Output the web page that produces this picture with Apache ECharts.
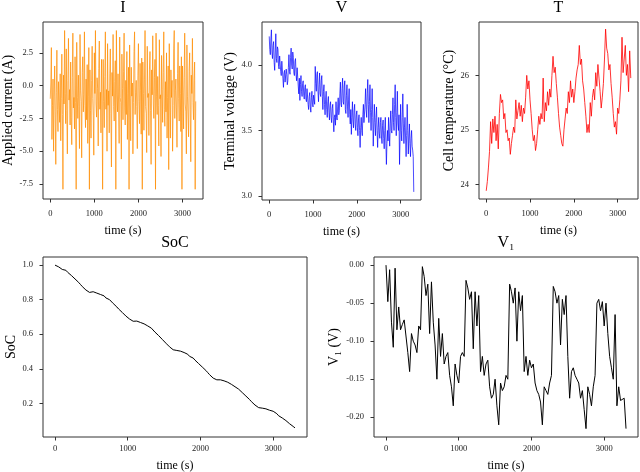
<!DOCTYPE html>
<html>
<head>
<meta charset="utf-8">
<script src="https://cdn.jsdelivr.net/npm/echarts@6/dist/echarts.min.js"></script>
<style>
  html, body, #main { width: 640px; height: 472px; margin: 0; background: #fff; }
</style>
</head>
<body>
<div id="main"></div>
<script>
// I and V are read every 12.5 s, the slower signals every 25 s (0 .. 3300 s)
var fastStep = 12.5;
var step = 25;

var current = [
  -1.0, 0.2, 2.9, -4.1, -1.5, 0.5, -5.0, -0.8, 1.5, -2.0, -6.0, -0.5, 2.7, -1.8, -3.5, 0.3, -1.2, -2.8, 0.9, -4.2, -1.0, 2.4, -2.2, -7.9,
  0.8, -1.4, 4.2, -0.6, -2.9, 2.8, -1.9, -5.2, 0.4, 3.6, -1.1, -0.3, -3.0, 1.8, -2.4, -4.5, 0.6, 4.0, -1.7, -0.9, -3.3, 2.2, -1.3, -7.9,
  3.3, -0.9, -2.5, 0.8, -1.6, -4.8, 3.9, -0.4, -1.2, -5.5, 1.0, 2.2, -2.0, -0.7, 4.1, -1.5, -3.2, 0.5, -2.6, 1.6, -4.4, -0.8, 2.9, -7.9,
  1.2, -1.9, -4.0, 0.4, 3.0, -1.0, -2.3, -5.3, 2.5, -0.6, 4.2, -1.4, -2.4, 0.6, -0.2, -4.6, 1.3, 3.4, -1.8, -0.5, -3.6, 2.0, -1.1, -7.9,
  2.0, -1.2, -3.2, 0.7, 4.1, -1.8, -0.3, -5.0, 3.2, -1.5, -0.4, -3.6, 0.9, 2.8, -2.1, -6.2, 1.0, -0.8, 3.9, -1.6, -2.7, 0.3, 1.9, -7.9,
  4.2, -0.7, -2.0, 0.9, -1.4, -4.4, 3.7, -0.9, -1.3, -5.6, 2.4, -0.2, -2.6, 1.1, 4.0, -1.7, -3.0, 0.4, -2.2, 2.6, -4.1, -0.6, 1.4, -7.9,
  3.1, -1.0, -4.2, 1.4, -0.8, 0.2, -5.2, -1.3, 2.6, 4.1, -2.2, -0.5, 0.4, -1.6, -4.8, 0.8, 3.2, -1.2, -2.9, 1.7, -0.4, -3.7, 2.1, -7.9,
  1.8, -0.6, -3.4, 0.5, 4.2, -1.6, -2.1, -5.1, 3.0, -0.9, -0.6, -3.8, 1.2, 2.6, -1.9, -6.0, 1.2, -0.7, 3.8, -1.4, -2.5, 0.6, 2.0, -7.9,
  4.0, -0.8, -2.2, 0.7, -1.5, -4.6, 3.5, -1.0, -0.7, -5.4, 2.3, -0.3, -2.8, 1.0, 4.1, -1.8, -3.1, 0.3, -2.0, 2.5, -4.0, -0.9, 1.5, -6.4,
  3.2, -1.1, -4.0, 1.2, -0.9, 0.4, -5.0, -1.5, 2.8, 4.2, -2.5, -0.4, 0.5, -1.7, -4.7, 0.9, 3.3, -1.0, -2.7, 1.5, -0.6, -3.5, 2.2, -7.9,
  1.5, -0.5, -3.3, 0.6, 4.0, -1.4, -2.0, -5.2, 3.1, -0.8, -0.7, -3.9, 1.1, 2.5, -1.8, -5.8, 0.8, -0.6, 3.6, -1.3, -2.6, 0.4, 1.8, -7.9,
  -1.2
];

var voltage = [
  4.22, 4.12, 4.08, 4.20, 4.27, 4.10, 4.05, 4.15, 4.18, 4.02, 3.96, 4.10, 4.24, 4.05, 4.02, 4.14, 4.12, 3.99, 3.97, 4.07, 4.08, 3.95, 3.92, 4.03,
  4.02, 3.90, 3.83, 3.94, 3.96, 3.87, 3.86, 3.97, 3.93, 3.85, 3.88, 3.98, 4.08, 3.95, 3.93, 4.06, 4.13, 4.00, 3.97, 4.10, 4.06, 3.94, 3.92, 4.03,
  4.05, 3.93, 3.88, 3.98, 3.98, 3.84, 3.78, 3.90, 3.73, 3.85, 3.92, 3.80, 3.76, 3.86, 3.88, 3.77, 3.74, 3.83, 3.85, 3.74, 3.72, 3.82, 3.82, 3.70,
  3.66, 3.76, 3.79, 3.68, 3.64, 3.75, 3.80, 3.70, 3.68, 3.77, 3.78, 3.70, 3.99, 3.86, 3.80, 3.93, 3.95, 3.80, 3.72, 3.85, 3.94, 3.78, 3.76, 3.88,
  3.92, 3.76, 3.66, 3.80, 3.85, 3.70, 3.62, 3.74, 3.80, 3.66, 3.60, 3.72, 3.76, 3.64, 3.58, 3.69, 3.72, 3.60, 3.56, 3.67, 3.70, 3.58, 3.49, 3.60,
  3.62, 3.54, 3.72, 3.60, 3.58, 3.68, 3.75, 3.62, 3.65, 3.78, 3.87, 3.70, 3.68, 3.82, 3.90, 3.72, 3.70, 3.84, 3.88, 3.66, 3.63, 3.77, 3.85, 3.68,
  3.60, 3.74, 3.82, 3.62, 3.55, 3.66, 3.47, 3.60, 3.72, 3.58, 3.52, 3.65, 3.70, 3.55, 3.50, 3.62, 3.65, 3.52, 3.46, 3.58, 3.62, 3.50, 3.37, 3.52,
  3.60, 3.50, 3.46, 3.62, 3.70, 3.56, 3.55, 3.70, 3.82, 3.66, 3.60, 3.78, 3.89, 3.70, 3.56, 3.72, 3.85, 3.64, 3.50, 3.66, 3.82, 3.60, 3.38, 3.55,
  3.70, 3.56, 3.46, 3.60, 3.68, 3.50, 3.37, 3.52, 3.60, 3.48, 3.44, 3.56, 3.60, 3.45, 3.40, 3.54, 3.58, 3.44, 3.36, 3.50, 3.60, 3.42, 3.24, 3.40,
  3.50, 3.42, 3.60, 3.48, 3.38, 3.55, 3.65, 3.50, 3.48, 3.62, 3.75, 3.56, 3.50, 3.70, 3.85, 3.60, 3.46, 3.64, 3.80, 3.55, 3.50, 3.62, 3.24, 3.45,
  3.70, 3.50, 3.42, 3.60, 3.78, 3.55, 3.40, 3.52, 3.60, 3.45, 3.30, 3.46, 3.70, 3.50, 3.32, 3.45, 3.55, 3.40, 3.30, 3.44, 3.50, 3.38, 3.35, 3.30,
  3.03
];

var temperature = [
  23.88, 24.05, 24.30, 24.60, 25.15, 24.75, 25.20, 24.95, 25.25, 24.80, 25.10, 24.65,
  25.30, 25.65, 25.50, 25.55, 25.20, 25.30, 24.95, 25.00, 24.80, 24.85, 24.55, 24.75,
  24.90, 25.05, 24.95, 25.55, 25.20, 25.35, 25.50, 25.25, 25.45, 25.15, 25.40, 25.30,
  25.60, 26.00, 25.75, 25.90, 25.55, 25.30, 25.00, 24.80, 24.90, 24.62, 24.75, 25.00,
  25.25, 25.10, 25.30, 25.20, 25.95, 25.15, 25.50, 25.35, 25.70, 25.45, 25.75, 25.60,
  26.00, 26.35, 26.05, 26.15, 25.85, 25.60, 25.30, 25.05, 24.90, 24.75, 24.70, 25.00,
  25.20, 25.40, 25.30, 25.70, 25.50, 25.90, 25.60, 25.75, 25.50, 25.70, 25.95, 26.10,
  26.20, 26.55, 26.20, 26.30, 25.90, 25.75, 25.50, 25.25, 24.95, 25.10, 24.95, 25.50,
  25.25, 25.60, 25.75, 25.55, 26.05, 25.80, 26.20, 25.95, 25.70, 25.40, 25.60, 25.85,
  26.30, 26.85, 26.50, 26.40, 26.10, 26.20, 25.85, 25.60, 25.30, 25.05, 25.15, 24.92,
  25.40, 25.30, 25.55, 25.90, 26.70, 26.05, 26.30, 26.55, 26.00, 26.20, 25.70, 26.45,
  25.95
];

var soc = [
  1.000, 0.995, 0.990, 0.985, 0.975, 0.968, 0.970, 0.958, 0.948, 0.940, 0.930, 0.920,
  0.910, 0.900, 0.888, 0.876, 0.866, 0.856, 0.846, 0.842, 0.845, 0.846, 0.842, 0.838,
  0.835, 0.830, 0.826, 0.822, 0.810, 0.802, 0.800, 0.790, 0.778, 0.768, 0.758, 0.746,
  0.737, 0.726, 0.715, 0.705, 0.697, 0.688, 0.680, 0.675, 0.676, 0.676, 0.672, 0.668,
  0.664, 0.660, 0.656, 0.648, 0.640, 0.635, 0.625, 0.612, 0.602, 0.592, 0.582, 0.570,
  0.560, 0.548, 0.538, 0.527, 0.518, 0.510, 0.505, 0.506, 0.505, 0.502, 0.498, 0.494,
  0.490, 0.484, 0.472, 0.466, 0.462, 0.450, 0.440, 0.430, 0.420, 0.410, 0.400, 0.390,
  0.378, 0.366, 0.356, 0.346, 0.340, 0.336, 0.338, 0.336, 0.333, 0.330, 0.326, 0.322,
  0.318, 0.310, 0.300, 0.296, 0.290, 0.282, 0.272, 0.262, 0.252, 0.242, 0.232, 0.222,
  0.210, 0.200, 0.190, 0.182, 0.175, 0.170, 0.172, 0.170, 0.168, 0.165, 0.160, 0.158,
  0.154, 0.150, 0.140, 0.128, 0.125, 0.115, 0.108, 0.100, 0.090, 0.082, 0.074, 0.066,
  0.058
];

var v1 = [
  0.000, -0.048, -0.006, -0.075, -0.108, -0.004, -0.085, -0.055, -0.085, -0.078, -0.072, -0.070,
  -0.115, -0.140, -0.090, -0.100, -0.105, -0.115, -0.080, -0.085, -0.002, -0.015, -0.040, -0.025,
  -0.090, -0.022, -0.075, -0.105, -0.150, -0.070, -0.120, -0.090, -0.130, -0.120, -0.115, -0.145,
  -0.160, -0.185, -0.130, -0.145, -0.155, -0.120, -0.115, -0.120, -0.020, -0.030, -0.045, -0.035,
  -0.110, -0.035, -0.080, -0.040, -0.140, -0.120, -0.145, -0.130, -0.125, -0.160, -0.175, -0.170,
  -0.150, -0.185, -0.210, -0.155, -0.165, -0.160, -0.145, -0.150, -0.025, -0.035, -0.050, -0.030,
  -0.100, -0.035, -0.060, -0.040, -0.140, -0.120, -0.145, -0.125, -0.135, -0.130, -0.155, -0.165,
  -0.170, -0.180, -0.210, -0.160, -0.165, -0.170, -0.155, -0.145, -0.028, -0.035, -0.050, -0.040,
  -0.105, -0.045, -0.065, -0.040, -0.120, -0.175, -0.140, -0.135, -0.145, -0.150, -0.155, -0.175,
  -0.165, -0.190, -0.215, -0.160, -0.170, -0.185, -0.160, -0.145, -0.050, -0.045, -0.060, -0.048,
  -0.080, -0.050, -0.090, -0.120, -0.135, -0.150, -0.065, -0.185, -0.160, -0.178, -0.176, -0.175,
  -0.215
];

var timeTicks = [0, 1000, 2000, 3000];

function withTime(vals, dt) {
  return vals.map(function (v, i) { return [i * dt, v]; });
}

var FONT = 'Liberation Serif';
var INK = '#333';

var panels = [
  { title: 'I', yName: 'Applied current (A)', data: current, dt: fastStep, color: '#ff8c00', lw: 0.7,
    box: [43, 22, 160, 177], yMin: -8.64, yMax: 4.85, yTicks: [-7.5, -5, -2.5, 0, 2.5], dec: 1, gap: 26, top: true },
  { title: 'V', yName: 'Terminal voltage (V)', data: voltage, dt: fastStep, color: '#0000ff', lw: 0.7,
    box: [262, 22, 159, 178], yMin: 2.968, yMax: 4.33, yTicks: [3.0, 3.5, 4.0], dec: 1, gap: 22, top: true },
  { title: 'T', yName: 'Cell temperature (\u00b0C)', data: temperature, dt: step, color: '#ff0000', lw: 0.8,
    box: [479, 22, 159, 177], yMin: 23.73, yMax: 26.98, yTicks: [24, 25, 26], dec: 0, gap: 20, top: true },
  { title: 'SoC', yName: 'SoC', data: soc, dt: step, color: '#000000', lw: 1,
    box: [43, 257, 264, 180], yMin: 0.005, yMax: 1.047, yTicks: [0.2, 0.4, 0.6, 0.8, 1.0], dec: 1, gap: 24, top: false },
  { title: 'V\u2081', yName: 'V\u2081 (V)', data: v1, dt: step, color: '#000000', lw: 1,
    box: [374, 257, 264, 180], yMin: -0.226, yMax: 0.0107, yTicks: [-0.2, -0.15, -0.1, -0.05, 0], dec: 2, gap: 33, top: false }
];

var chart = echarts.init(document.getElementById('main'));

var option = {
  animation: false,
  backgroundColor: '#fff',
  textStyle: { fontFamily: FONT },
  title: [],
  grid: [],
  xAxis: [],
  yAxis: [],
  series: []
};

panels.forEach(function (p, k) {
  option.title.push({
    text: p.title,
    left: p.box[0] + p.box[2] / 2,
    top: p.box[1] - 22,
    textAlign: 'center',
    padding: 0,
    textStyle: { fontFamily: FONT, fontSize: 16, fontWeight: 'normal', color: '#000' }
  });
  option.grid.push({
    left: p.box[0], top: p.box[1], width: p.box[2], height: p.box[3],
    show: true, borderColor: INK, borderWidth: 1, backgroundColor: 'transparent',
    containLabel: false, outerBoundsMode: 'none'
  });
  option.xAxis.push({
    type: 'value', gridIndex: k, min: -165, max: 3465,
    name: 'time (s)', nameLocation: 'middle', nameGap: p.top ? 26 : 23,
    nameTextStyle: { fontFamily: FONT, fontSize: 12, color: '#000' },
    axisLine: { show: false, onZero: false },
    splitLine: { show: false },
    axisTick: { show: true, length: 3.5, customValues: timeTicks, lineStyle: { color: INK, width: 1 } },
    axisLabel: {
      customValues: timeTicks, margin: p.top ? 10 : 7, fontFamily: FONT, fontSize: 8.5, color: '#222',
      formatter: function (v) { return String(v); }
    }
  });
  option.yAxis.push({
    type: 'value', gridIndex: k, min: p.yMin, max: p.yMax,
    name: p.yName, nameLocation: 'middle', nameGap: p.gap,
    nameTextStyle: { fontFamily: FONT, fontSize: 14, color: '#000' },
    axisLine: { show: false, onZero: false },
    splitLine: { show: false },
    axisTick: { show: true, length: 3.5, customValues: p.yTicks, lineStyle: { color: INK, width: 1 } },
    axisLabel: {
      customValues: p.yTicks, margin: 10, fontFamily: FONT, fontSize: 8.5, color: '#222',
      formatter: (function (d) { return function (v) { return Number(v).toFixed(d); }; })(p.dec)
    }
  });
  option.series.push({
    type: 'line', xAxisIndex: k, yAxisIndex: k,
    data: withTime(p.data, p.dt),
    showSymbol: false, symbol: 'none',
    lineStyle: { color: p.color, width: p.lw },
    silent: true
  });
});

chart.setOption(option);
</script>
</body>
</html>
